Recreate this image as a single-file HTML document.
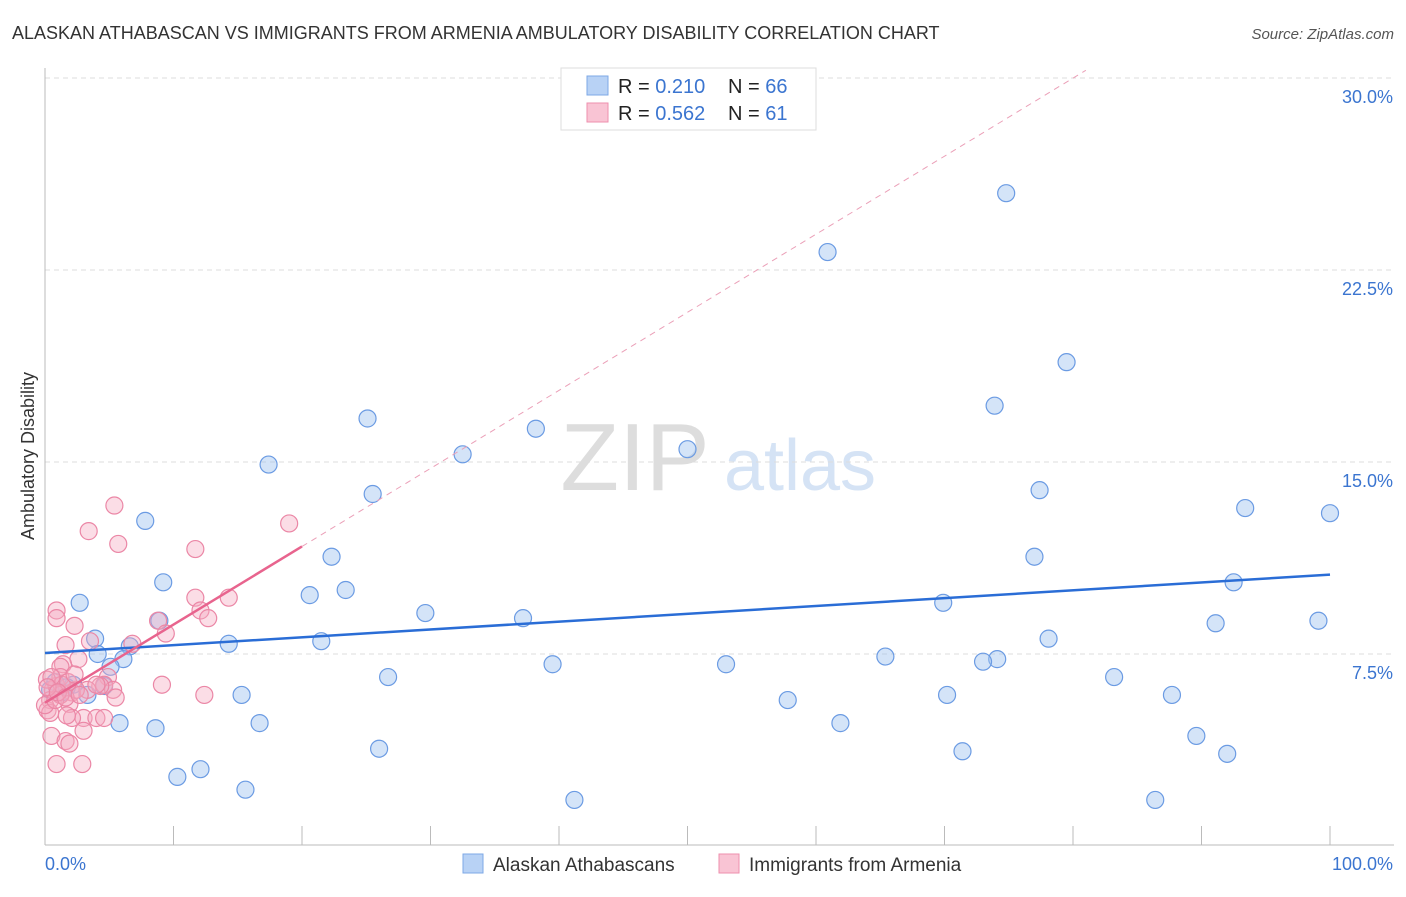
<!DOCTYPE html>
<html><head><meta charset="utf-8"><style>
body{margin:0;background:#fff;font-family:"Liberation Sans",sans-serif}
svg text{font-family:"Liberation Sans",sans-serif}
</style></head><body>
<svg id="chart" width="1406" height="892">
<text x="12" y="39" font-size="18" fill="#333">ALASKAN ATHABASCAN VS IMMIGRANTS FROM ARMENIA AMBULATORY DISABILITY CORRELATION CHART</text>
<text x="1394" y="39" font-size="15" fill="#555" font-style="italic" text-anchor="end">Source: ZipAtlas.com</text>
<text x="34" y="456" font-size="18" fill="#333" text-anchor="middle" transform="rotate(-90 34 456)">Ambulatory Disability</text>
<g><text x="635" y="490" font-size="96" fill="#ddd" font-family="Liberation Serif" text-anchor="middle">ZIP</text><text x="800" y="490" font-size="72" fill="#d5e3f5" text-anchor="middle">atlas</text></g>
<g id="grid"></g><g id="axes"></g><g id="pts"></g><g id="lines"></g>
<g>
<rect x="561" y="68" width="255" height="62" fill="#fff" stroke="#ddd"/>
<rect x="587" y="76" width="21" height="19" fill="#b8d2f5" stroke="#7ea8e6"/>
<rect x="587" y="103" width="21" height="19" fill="#f9c4d4" stroke="#ee8fae"/>
<text x="618" y="93" font-size="20" fill="#222">R = <tspan fill="#3b75d0">0.210</tspan><tspan x="728">N = </tspan><tspan fill="#3b75d0">66</tspan></text>
<text x="618" y="120" font-size="20" fill="#222">R = <tspan fill="#3b75d0">0.562</tspan><tspan x="728">N = </tspan><tspan fill="#3b75d0"> 61</tspan></text>
</g>
<g>
<rect x="463" y="854" width="20" height="19" fill="#b8d2f5" stroke="#7ea8e6"/>
<text x="493" y="871" font-size="19" fill="#333">Alaskan Athabascans</text>
<rect x="719" y="854" width="20" height="19" fill="#f9c4d4" stroke="#ee8fae"/>
<text x="749" y="871" font-size="19" fill="#333">Immigrants from Armenia</text>
</g>
</svg>
<script>
const yTicks=[7.5,15,22.5,30];
const yTickLabels=["7.5%","15.0%","22.5%","30.0%"];
const xTicks=[0,10,20,30,40,50,60,70,80,90,100];
const blueX=[74.8,60.9,79.5,73.9,25.1,38.2,32.5,50.0,17.4,25.5,77.4,93.4,100,7.8,77.0,22.3,9.2,23.4,92.5,20.6,2.7,29.6,69.9,37.2,99.1,91.1,78.1,8.9,3.9,21.5,14.3,6.6,4.1,65.4,74.1,73.0,6.1,5.1,39.5,53.0,26.7,83.2,15.3,70.2,87.7,3.3,2.2,0.8,57.8,16.7,5.8,8.6,61.9,89.6,26.0,71.4,92.0,12.1,10.3,15.6,41.2,86.4,1.3,0.4,1.7,4.6];
const blueY=[25.5,23.2,18.9,17.2,16.7,16.3,15.3,15.5,14.9,13.75,13.9,13.2,13.0,12.7,11.3,11.3,10.3,10.0,10.3,9.8,9.5,9.1,9.5,8.9,8.8,8.7,8.1,8.8,8.1,8.0,7.9,7.8,7.5,7.4,7.3,7.2,7.3,7.0,7.1,7.1,6.6,6.6,5.9,5.9,5.9,5.9,6.3,6.4,5.7,4.8,4.8,4.6,4.8,4.3,3.8,3.7,3.6,3.0,2.7,2.2,1.8,1.8,6.0,6.1,6.2,6.25];
const pinkX=[5.4,3.4,5.7,11.7,19.0,0.9,0.9,2.3,11.7,14.3,12.1,12.7,8.8,9.4,3.5,1.6,6.8,2.6,1.4,1.2,9.1,4.9,4.6,5.3,12.4,5.5,4.3,2.1,0.6,0.4,0.2,1.9,3.3,0.9,1.2,0.15,3.0,4.0,4.6,2.1,1.7,0.4,3.0,0.5,1.6,1.9,0.9,2.9,2.4,1.2,0,0.8,1.3,1.8,0.5,2.3,4.0,0.2,1.0,1.6,2.7];
const pinkY=[13.3,12.3,11.8,11.6,12.6,9.2,8.9,8.6,9.7,9.7,9.2,8.9,8.8,8.3,8.0,7.85,7.9,7.3,7.1,7.0,6.3,6.6,6.3,6.1,5.9,5.8,6.25,6.0,6.1,5.7,5.3,5.55,6.1,6.25,6.6,6.5,5.0,5.0,5.0,5.0,5.1,5.2,4.5,4.3,4.1,4.0,3.2,3.2,6.1,5.9,5.5,5.7,6.3,6.4,6.6,6.7,6.3,6.2,6.0,5.8,5.9];
const blueTrend=[[0,7.54],[100,10.6]];
const pinkTrend=[[0,5.6],[20,11.7]];
const pinkTrendExt=[[20,11.7],[81,30.3]];
const NS="http://www.w3.org/2000/svg";
const xs=v=>45+v*12.85, ys=v=>846-v*25.6;
function mk(tag,attrs,parent){const e=document.createElementNS(NS,tag);for(const k in attrs)e.setAttribute(k,attrs[k]);document.getElementById(parent).appendChild(e);return e;}
yTicks.forEach((t,i)=>{
 const g=mk('line',{x1:45,x2:1394,y1:ys(t),y2:ys(t),stroke:'#ddd','stroke-dasharray':'5,4'},'grid');
 
 
 const tx=mk('text',{x:1393,y:ys(t)+25,'font-size':18,fill:'#3b75d0','text-anchor':'end'},'grid');
 tx.textContent=yTickLabels[i];
 
 
});
const ax=mk('line',{x1:45,x2:45,y1:68,y2:845,stroke:'#bbb'},'axes');


const bx=mk('line',{x1:45,x2:1394,y1:845,y2:845,stroke:'#bbb'},'axes');


xTicks.forEach(t=>{const l=mk('line',{x1:xs(t),x2:xs(t),y1:826,y2:845,stroke:'#bbb'},'axes');
 
 });
const l0=mk('text',{x:45,y:870,'font-size':18,fill:'#3b75d0'},'axes');l0.textContent='0.0%';


const l1=mk('text',{x:1393,y:870,'font-size':18,fill:'#3b75d0','text-anchor':'end'},'axes');l1.textContent='100.0%';


blueX.forEach((x,i)=>{const c=mk('circle',{cx:xs(x),cy:ys(blueY[i]),r:8.5,fill:'rgba(160,196,240,0.45)',stroke:'#6b9be3','stroke-width':1.2},'pts');
 
 });
pinkX.forEach((x,i)=>{const c=mk('circle',{cx:xs(x),cy:ys(pinkY[i]),r:8.5,fill:'rgba(245,170,192,0.4)',stroke:'#eb87a6','stroke-width':1.2},'pts');
 
 });
const bt=mk('line',{x1:xs(blueTrend[0][0]),y1:ys(blueTrend[0][1]),x2:xs(blueTrend[1][0]),y2:ys(blueTrend[1][1]),stroke:'#2a6dd6','stroke-width':2.5},'lines');


const pt=mk('line',{x1:xs(pinkTrend[0][0]),y1:ys(pinkTrend[0][1]),x2:xs(pinkTrend[1][0]),y2:ys(pinkTrend[1][1]),stroke:'#e8648e','stroke-width':2.5},'lines');


const pe=mk('line',{x1:xs(pinkTrendExt[0][0]),y1:ys(pinkTrendExt[0][1]),x2:xs(pinkTrendExt[1][0]),y2:ys(pinkTrendExt[1][1]),stroke:'#eba0b8','stroke-width':1,'stroke-dasharray':'6,5'},'lines');


</script>
</body></html>
